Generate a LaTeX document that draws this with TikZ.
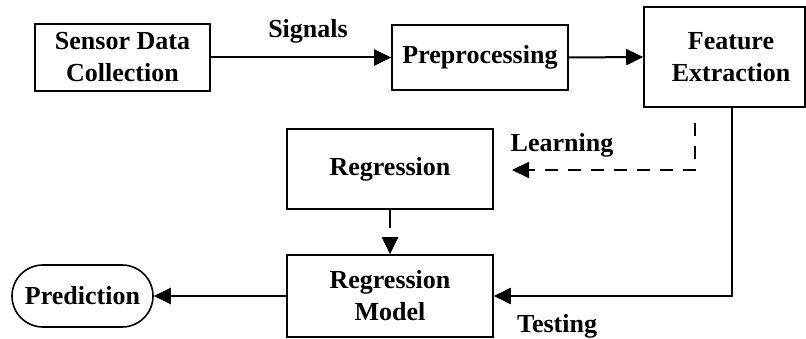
\documentclass[tikz,border=0pt]{standalone}
\usepackage{fontspec}
\setmainfont{Liberation Serif}
\usetikzlibrary{arrows.meta}
\begin{document}
\begin{tikzpicture}[x=1pt,y=-1pt,
  every node/.style={font=\bfseries\fontsize{26}{32}\selectfont, align=center, inner sep=0pt},
  box/.style={draw, line width=1.6pt, minimum width=#1},
  flow/.style={line width=2pt, -{Triangle[length=17pt,width=16pt]}},
  dflow/.style={flow, dash pattern=on 13pt off 10pt}]
\useasboundingbox (0,0) rectangle (806,339);

% processing blocks
\node[box=175pt, minimum height=67pt] (sensor) at (122.5,57.5) {Sensor Data\\Collection};
\node[box=176pt, minimum height=65pt] (prep) at (480,57.5) {Preprocessing};
\node[box=161pt, minimum height=100pt] (feat) at (724.5,57) {};
\node (featTxt) at (731,57) {Feature\\Extraction};
\node[box=206pt, minimum height=80pt] (regr) at (390,169) {Regression};
\node[box=206pt, minimum height=82pt] (model) at (390,296) {Regression\\Model};
\node[draw, line width=1.6pt, rounded corners=31pt, minimum width=141pt, minimum height=62pt] (pred) at (82.5,296) {Prediction};

% helper points for the routed connectors
\coordinate (learnA) at (695,123);
\coordinate (learnB) at (512,170);
\coordinate (testA) at (732,107);

% connectors
\draw[flow] (sensor.east) -- (prep.west);
\draw[flow] (prep.east) -- (feat.west);
\draw[dflow] (learnA) |- (learnB);
\draw[flow] (testA) |- (model.east);
\draw[flow, dash pattern=on 18pt off 12pt] (regr.south) -- (model.north);
\draw[flow] (model.west) -- (pred.east);

% labels
\node (sig) at (308,31) {Signals};
\node (learn) at (562,145) {Learning};
\node (test) at (557,326) {Testing};
\end{tikzpicture}
\end{document}
